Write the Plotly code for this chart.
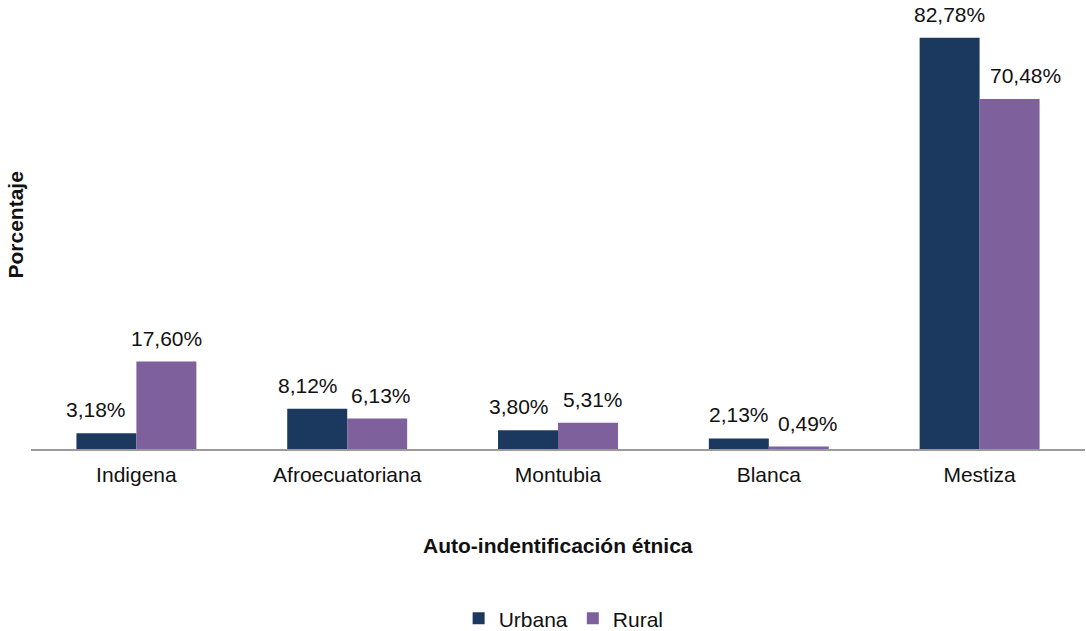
import plotly.graph_objects as go

categorias = ["Indigena", "Afroecuatoriana", "Montubia", "Blanca", "Mestiza"]
urbana = [3.18, 8.12, 3.80, 2.13, 82.78]
rural = [17.60, 6.13, 5.31, 0.49, 70.48]

FONT = "Liberation Sans, Arial, sans-serif"
NAVY = "#1b385e"
PURPLE = "#7e609d"
SIZE = 21

# horizontal half-width of one bar in px (used to centre labels over each bar)
HALF = 30
# small sideways nudges so neighbouring labels do not collide
nudge_urbana = [-10, -9, -9, 0, 0]
nudge_rural = [0, 4, 5, 9, 16]


def etiqueta(v):
    return f"{v:.2f}".replace(".", ",") + "%"


fig = go.Figure()
fig.add_trace(go.Bar(name="Urbana", x=categorias, y=urbana,
                     marker_color=NAVY, marker_line_width=0))
fig.add_trace(go.Bar(name="Rural", x=categorias, y=rural,
                     marker_color=PURPLE, marker_line_width=0))

annotations = []
for serie, sign, nudges in ((urbana, -1, nudge_urbana), (rural, 1, nudge_rural)):
    for cat, v, n in zip(categorias, serie, nudges):
        annotations.append(dict(
            x=cat, y=v, xref="x", yref="y", text=etiqueta(v), showarrow=False,
            xanchor="center", yanchor="bottom", xshift=sign * HALF + n,
            yshift=10, font=dict(size=SIZE, color="#111")))

annotations += [
    dict(text="<b>Auto-indentificación étnica</b>", x=0.5, y=0,
         xref="paper", yref="paper", showarrow=False, yshift=-96,
         xanchor="center", yanchor="middle", font=dict(size=SIZE)),
    dict(text="<b>Porcentaje</b>", x=0, y=0.5, xref="paper", yref="paper",
         showarrow=False, xshift=-16, xanchor="center", yanchor="middle",
         textangle=-90, font=dict(size=SIZE)),
]

fig.update_layout(
    width=1086, height=631,
    margin=dict(l=31, r=1, t=2, b=182),
    paper_bgcolor="white", plot_bgcolor="white",
    barmode="group", bargap=0.431, bargroupgap=0,
    font=dict(family=FONT, size=SIZE, color="#111"),
    showlegend=True,
    legend=dict(orientation="h", x=0.519, xanchor="center", y=0.052,
                yanchor="top", xref="container", yref="container",
                font=dict(size=SIZE), traceorder="normal",
                itemwidth=30, tracegroupgap=0),
    xaxis=dict(showline=True, linecolor="#9a9a9a", linewidth=2, ticks="",
               tickfont=dict(size=SIZE), showgrid=False,
               ticklabelstandoff=6),
    yaxis=dict(range=[0, 90], visible=False),
    annotations=annotations,
)

fig.write_html("out.html")
